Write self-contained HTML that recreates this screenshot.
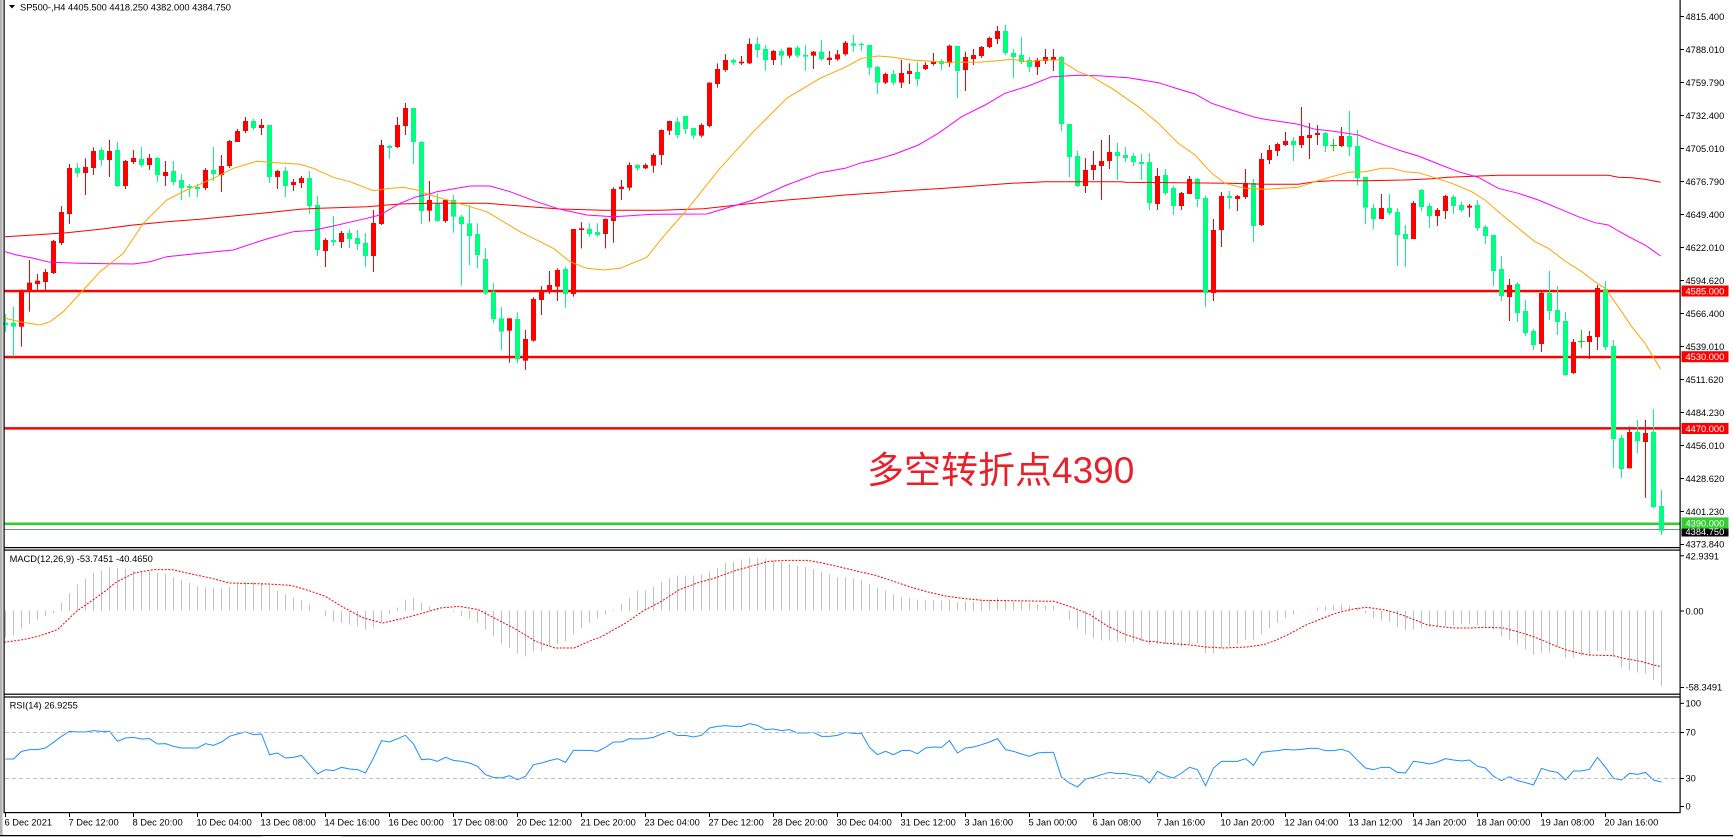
<!DOCTYPE html>
<html><head><meta charset="utf-8">
<style>
html,body{margin:0;padding:0;background:#fff;width:1733px;height:837px;overflow:hidden}
svg{display:block}
text{font-family:"Liberation Sans",sans-serif;font-size:9.3px;fill:#000}
</style></head>
<body>
<svg id="c" width="1733" height="837" viewBox="0 0 1733 837" xmlns="http://www.w3.org/2000/svg">
<rect x="0" y="0" width="1733" height="837" fill="#fff"/>
<g id="levels">
<rect x="4.5" y="289.8" width="1675" height="2.5" fill="#ff0000"/>
<rect x="4.5" y="355.8" width="1675" height="2.5" fill="#ff0000"/>
<rect x="4.5" y="427.1" width="1675" height="2.5" fill="#ff0000"/>
<rect x="4.5" y="522.5" width="1675" height="2.5" fill="#32cd32"/>
<rect x="4.5" y="529" width="1675" height="1" fill="#778899"/>
</g>
<g id="candles"></g>
<g id="mas" fill="none" stroke-width="1"></g>
<g id="macd"></g>
<g id="rsi" fill="none"></g>

<!-- RSI levels -->
<line x1="5" y1="732.5" x2="1679" y2="732.5" stroke="#c0c0c0" stroke-dasharray="4 3"/>
<line x1="5" y1="778.5" x2="1679" y2="778.5" stroke="#c0c0c0" stroke-dasharray="4 3"/>

<!-- frames -->
<rect x="0" y="0" width="2.5" height="837" fill="#b4b4b4"/>
<rect x="3.5" y="0" width="1.2" height="813" fill="#000"/>
<rect x="1679.5" y="0" width="1.2" height="813" fill="#000"/>
<rect x="3.5" y="547" width="1677" height="1.2" fill="#000"/>
<rect x="3.5" y="549.5" width="1677" height="1.2" fill="#000"/>
<rect x="3.5" y="693.6" width="1677" height="1.2" fill="#000"/>
<rect x="3.5" y="696.4" width="1677" height="1.2" fill="#000"/>
<rect x="3.5" y="812" width="1677" height="1.2" fill="#000"/>
<rect x="0" y="835" width="1733" height="1" fill="#000"/>
<rect x="0" y="836" width="1733" height="1" fill="#c0c0c0"/>
<rect x="262" y="836" width="79" height="1" fill="#f0f0f0"/>

<!-- header -->
<polygon points="9,5 15,5 12,8.5" fill="#000"/>
<text x="20" y="10.3">SP500-,H4  4405.500 4418.250 4382.000 4384.750</text>
<text x="9.6" y="562">MACD(12,26,9) -53.7451 -40.4650</text>
<text x="9.6" y="708.7">RSI(14) 26.9255</text>

<!-- price axis -->
<g id="pticks" stroke="#000" stroke-width="1"></g>
<text x="1685.5" y="20">4815.400</text>
<text x="1685.5" y="53">4788.010</text>
<text x="1685.5" y="86">4759.790</text>
<text x="1685.5" y="119">4732.400</text>
<text x="1685.5" y="152">4705.010</text>
<text x="1685.5" y="185">4676.790</text>
<text x="1685.5" y="218">4649.400</text>
<text x="1685.5" y="251">4622.010</text>
<text x="1685.5" y="284">4594.620</text>
<text x="1685.5" y="317">4566.400</text>
<text x="1685.5" y="350">4539.010</text>
<text x="1685.5" y="383">4511.620</text>
<text x="1685.5" y="416">4484.230</text>
<text x="1685.5" y="449">4456.010</text>
<text x="1685.5" y="482">4428.620</text>
<text x="1685.5" y="515">4401.230</text>
<text x="1685.5" y="547.7">4373.840</text>

<!-- price tags -->
<rect x="1681.5" y="285.5" width="47" height="11" fill="#ff0000"/>
<text x="1685.5" y="294.5" style="fill:#fff">4585.000</text>
<rect x="1681.5" y="351.2" width="47" height="11" fill="#ff0000"/>
<text x="1685.5" y="360.2" style="fill:#fff">4530.000</text>
<rect x="1681.5" y="423" width="47" height="11" fill="#ff0000"/>
<text x="1685.5" y="432" style="fill:#fff">4470.000</text>
<rect x="1681.5" y="526" width="47" height="10.5" fill="#000"/>
<text x="1685.5" y="535" style="fill:#fff">4384.750</text>
<rect x="1681.5" y="517.4" width="47" height="11.2" fill="#32cd32"/>
<text x="1685.5" y="526.5" style="fill:#fff">4390.000</text>

<!-- MACD axis -->
<text x="1685.5" y="559.3">42.9391</text>
<text x="1685.5" y="614.3">0.00</text>
<text x="1685.5" y="690.7">-58.3491</text>
<!-- RSI axis -->
<text x="1685.5" y="706.7">100</text>
<text x="1685.5" y="735.7">70</text>
<text x="1685.5" y="781.7">30</text>
<text x="1685.5" y="809.3">0</text>

<!-- time axis -->
<g id="tticks" stroke="#000" stroke-width="1"></g>
<text x="4.5" y="825.7">6 Dec 2021</text>
<text x="68.5" y="825.7">7 Dec 12:00</text>
<text x="132.5" y="825.7">8 Dec 20:00</text>
<text x="196.5" y="825.7">10 Dec 04:00</text>
<text x="260.5" y="825.7">13 Dec 08:00</text>
<text x="324.5" y="825.7">14 Dec 16:00</text>
<text x="388.5" y="825.7">16 Dec 00:00</text>
<text x="452.5" y="825.7">17 Dec 08:00</text>
<text x="516.5" y="825.7">20 Dec 12:00</text>
<text x="580.5" y="825.7">21 Dec 20:00</text>
<text x="644.5" y="825.7">23 Dec 04:00</text>
<text x="708.5" y="825.7">27 Dec 12:00</text>
<text x="772.5" y="825.7">28 Dec 20:00</text>
<text x="836.5" y="825.7">30 Dec 04:00</text>
<text x="900.5" y="825.7">31 Dec 12:00</text>
<text x="964.5" y="825.7">3 Jan 16:00</text>
<text x="1028.5" y="825.7">5 Jan 00:00</text>
<text x="1092.5" y="825.7">6 Jan 08:00</text>
<text x="1156.5" y="825.7">7 Jan 16:00</text>
<text x="1220.5" y="825.7">10 Jan 20:00</text>
<text x="1284.5" y="825.7">12 Jan 04:00</text>
<text x="1348.5" y="825.7">13 Jan 12:00</text>
<text x="1412.5" y="825.7">14 Jan 20:00</text>
<text x="1476.5" y="825.7">18 Jan 00:00</text>
<text x="1540.5" y="825.7">19 Jan 08:00</text>
<text x="1604.5" y="825.7">20 Jan 16:00</text>

<!-- annotation -->
<text x="867" y="483" style="font-family:'Liberation Sans','Noto Sans CJK SC',sans-serif;font-size:37px;fill:#e8202a">多空转折点4390</text>
</svg>

<script>
(function(){
var NS='http://www.w3.org/2000/svg';
function el(tag,attrs,parent){var e=document.createElementNS(NS,tag);for(var k in attrs)e.setAttribute(k,attrs[k]);parent.appendChild(e);return e;}
var gC=document.getElementById('candles'),gM=document.getElementById('mas'),gD=document.getElementById('macd'),gR=document.getElementById('rsi');

var groups=[
{off:90,start:0,d:[['G',672,698,705,725],['G',650,698,710,800],['R',598,600,710,770],['R',510,578,602,665],['R',552,572,582,600],['R',537,546,576,600],['R',450,453,549,552],['R',348,366,459,465],['R',222,234,372,402],['G',220,234,249,261],['R',205,231,249,315],['R',172,183,234,255],['G',172,180,210,228],['R',150,183,210,261],['G',156,180,288,291],['R',210,213,288,297],['R',180,204,216,222],['G',171,207,225,231],['R',192,204,225,240],['G',201,204,255,276],['R',213,246,258,288],['G',213,243,276,285],['G',252,270,294,330],['G',282,288,294,321],['G',282,291,297,321],['R',234,240,294,300],['G',171,240,252,273],['R',195,228,255,306],['R',150,153,228,234],['R',117,123,156,156],['R',81,93,123,129],['G',87,93,114,120],['R',87,105,114,135],['G',105,105,261,279],['R',240,243,261,297],['G',231,243,288,321],['R',267,276,285,303],['R',258,264,279,294],['G',243,264,348,372],['G',318,345,480,498],['R',444,450,483,531],['G',378,450,456,468],['R',423,429,456,474],['G',417,429,447,474],['G',420,444,462,480],['G',429,459,498,531],['R',360,399,498,546],['R',150,165,402,405],['G',165,168,174,207],['R',81,105,171,174],['R',39,54,108,135],['G',54,54,156,222],['G',153,156,363,402]]},
{off:20,start:53,d:[['R',483,540,572,605],['G',520,548,603,605],['R',538,540,603,608],['G',525,540,590,638],['G',585,590,612,797],['G',555,610,648,735],['G',610,642,705,745],['G',685,717,820,825],['G',790,815,897,910],['G',862,895,935,990],['R',895,895,932,1028],['G',877,897,1018,1030],['R',930,957,1022,1050],['R',832,837,962,965],['R',798,812,840,885],['R',753,795,815,822],['R',745,750,800,843],['G',740,747,822,863],['R',627,627,822,830],['R',606,625,630,685],['G',610,627,642,650],['G',610,636,645,650],['R',595,597,642,685],['R',502,507,603,668],['R',480,500,507,540],['R',427,435,503,512],['G',433,435,445,452],['R',430,435,445,447],['R',400,405,437,458],['R',328,330,405,435],['R',302,303,332,345],['G',292,305,345,355],['G',288,288,327,342],['G',323,324,347,357],['R',310,315,347,352],['R',187,188,318,322],['R',130,147,192,203],['R',102,120,150,155],['G',115,120,128,135],['R',108,125,130,135],['R',55,72,130,132],['G',50,72,90,113],['G',75,87,120,152],['R',90,93,120,135],['G',87,93,107,135],['R',82,83,107,115],['G',77,83,107,113],['G',75,105,110,152],['R',93,95,107,147],['G',60,95,117,122],['R',93,113,120,135],['R',90,103,118,122],['R',63,68,103,107]]},
{off:10,start:106,d:[['G',75,100,107,125],['G',97,102,104,122],['G',105,105,173,195],['G',168,171,218,252],['R',188,192,218,222],['G',180,192,218,225],['R',150,189,218,234],['R',160,183,192,222],['G',155,186,207,228],['R',157,165,177,180],['R',129,153,162,167],['G',147,153,162,180],['R',104,107,159,171],['G',108,108,183,264],['R',125,141,180,243],['R',117,135,147,165],['R',108,111,138,144],['R',80,84,111,114],['R',48,63,87,102],['G',44,63,129,135],['G',117,129,141,204],['G',81,135,156,162],['G',141,150,171,186],['R',144,150,171,195],['R',117,141,153,162],['R',117,141,150,183],['G',138,141,342,363],['G',342,342,441,501],['G',423,438,528,531],['R',444,480,528,549],['R',423,465,480,510],['R',390,453,468,570],['R',375,426,453,477],['G',399,426,438,510],['G',411,435,444,456],['G',429,438,456,468],['G',432,456,462,510],['G',429,456,579,600],['R',474,498,582,600],['G',477,495,549,555],['G',528,534,588,615],['R',546,549,588,600],['R',498,507,552,552],['G',504,507,567,591],['G',558,564,849,891],['R',627,660,849,873],['R',546,558,660,711],['G',543,558,564,597],['R',555,558,567,603],['R',477,519,561,567],['G',507,519,648,696],['R',429,447,645,648],['R',405,420,450,462]]},
{off:90,start:159,d:[['R',158,162,183,198],['R',126,153,165,168],['G',141,153,165,213],['R',51,138,165,174],['R',99,135,144,207],['R',105,129,135,165],['G',126,129,168,186],['X',147,165,165,183],['R',111,138,168,171],['G',63,138,171,198],['G',120,168,264,285],['G',261,261,353,402],['G',342,354,387,417],['R',312,354,387,387],['G',312,354,369,375],['G',354,366,435,528],['G',405,432,447,531],['R',333,339,447,447],['G',297,300,351,363],['G',339,348,378,414],['R',354,360,378,408],['R',315,318,363,387],['G',315,321,348,372],['G',336,345,360,366],['R',342,347,353,381],['G',330,345,414,423],['G',405,411,438,462],['G',435,435,543,588],['G',498,537,618,633],['R',567,585,621,693],['G',576,582,669,696],['G',630,663,729,738],['G',717,723,765,780],['R',606,609,762,786],['G',543,609,663,690],['G',588,660,696,735],['G',666,693,855,858],['R',747,756,849,852],['X',720,753,753,774],['R',723,738,756,807],['R',585,594,741,780],['G',573,597,771,780]]},
{off:280,start:201,d:[['G',180,198,477,563],['G',465,474,567,594],['R',440,456,565,565],['G',420,456,483,519],['R',420,459,486,654],['G',387,456,681,684],['G',630,678,752,765]]}
];
var col={R:'#ff0000',G:'#00ff7f',X:'#00e000'};
groups.forEach(function(g){
  g.d.forEach(function(c,i){
    var k=g.start+i,off=g.off;
    var hi=off+c[1]/3,top=off+c[2]/3,bot=off+c[3]/3,lo=off+c[4]/3;
    var color=col[c[0]];
    el('rect',{x:5+8*k,y:hi.toFixed(2),width:1,height:Math.max(lo-hi,1).toFixed(2),fill:color},gC);
    var h=bot-top; if(h<1)h=1;
    if(c[0]==='X'){el('rect',{x:2+8*k,y:top.toFixed(2),width:7,height:1,fill:color},gC);}
    else el('rect',{x:3+8*k,y:top.toFixed(2),width:5,height:h.toFixed(2),fill:color},gC);
  });
});

function poly(pts,stroke,parent,extra){
  var s=pts.map(function(p){return p[0].toFixed(2)+','+p[1].toFixed(2);}).join(' ');
  var a={points:s,stroke:stroke,fill:'none','stroke-width':1};
  if(extra)for(var k in extra)a[k]=extra[k];
  el('polyline',a,parent);
}
function pairs(a){var r=[];for(var i=0;i<a.length;i+=2)r.push([a[i],a[i+1]]);return r;}

var orange=pairs([5,318.3,20,321.7,40,325,50,321.7,63.3,311.7,83.3,290,100,271.7,123.3,253.3,143.3,223.3,166.7,200,186.7,190,213.3,178.3,233.3,168.3,256.7,161.3,276.7,162.7,300,164.3,313.3,168.3,333.3,177.3,350,181.7,373.3,190.7,386.7,188.7,403.3,187.3,416.7,190,430,195,
453.3,201.7,486.7,211.7,520,231.7,553.3,248.3,570,261.7,586.7,268.3,603.3,270,620,268.3,646.7,257.3,663.3,236.7,686.7,210,720,168.3,753.3,131.7,786.7,98.3,820,78.3,845,67.3,
861.7,58.3,878.3,56,888.3,56.7,911.7,60,945,62.3,978.3,62.3,995,61,1011.7,59.3,1028.3,61.7,1045,60,1058.3,60,1065,63.3,1078.3,71.7,1091.7,76.7,1111.7,88.3,1138.3,106.7,1158.3,123.3,1178.3,143.3,1195,155,1211.7,173.3,1225,183.3,1245,188.3,1265,189.3,
1298.3,187.3,1315,181.7,1331.7,176.7,1348.3,172.3,1365,171.7,1381.7,168.3,1391.7,168.3,1405,171.7,1418.3,172.7,1431.7,176.7,1451.7,183.3,1471.7,191.7,1485,200,1498.3,211.7,1518.3,228.3,1535,241.7,1548.3,248.3,1565,261,1581.7,271.7,1595,281.7,1605,288.3,1618.3,306.7,1631.7,326.7,1645,343.3,1660.7,369.3]);
var magenta=pairs([5,251.7,16.7,255,33.3,258.3,50,262.3,80,263.3,110,263.7,133.3,264,150,261.7,166.7,256.7,200,253.3,233.3,250,253.3,243.3,266.7,239,293.3,231.7,313.3,230.3,333.3,226,366.7,218.3,380,215,400,203.3,416.7,196.7,430,194,
436.7,191.7,470,186,490,186,510,191.7,536.7,201.7,560,209.3,586.7,215,613.3,216.7,653.3,214.3,706.7,214,720,210,753.3,200,786.7,185,820,172.7,845,168.3,
861.7,162.7,878.3,159,895,154,918.3,145,938.3,133.3,961.7,116.7,985,105,1005,93.3,1028.3,86,1051.7,76.7,1078.3,75.3,1098.3,75.7,1128.3,77.7,1158.3,82.7,1178.3,89,1195,94,1211.7,103.3,1231.7,110,1255,117.3,1265,119.3,
1298.3,124.3,1315,129.3,1331.7,131,1358.3,135,1375,141.7,1398.3,150,1418.3,156,1438.3,164,1458.3,171.7,1478.3,177.3,1498.3,188.3,1518.3,193.3,1538.3,200,1558.3,208.3,1578.3,216.7,1595,222.7,1608.3,225,1618.3,231,1631.7,238.3,1645,245,1660.7,256]);
var redma=pairs([5,236.7,33.3,235,66.7,232.7,100,229.3,133.3,225,166.7,221.7,200,219.3,233.3,216,266.7,212.7,300,209.3,320,208.3,366.7,206.7,400,204,430,203.3,
486.7,203.3,520,206,560,209,603.3,210.3,660,210.3,703.3,208.7,753.3,203.3,786.7,200,820,197.3,845,195,
878.3,192.7,911.7,190.3,945,188.3,978.3,185.7,1011.7,183.3,1045,181.7,1121.7,181.7,1125,182.3,1178.3,182.7,1228.3,183.3,1265,184.3,
1298.3,184.3,1315,181.7,1331.7,180.7,1365,180.7,1405,180,1431.7,178.7,1448.3,177.3,1498.3,175.3,1608.3,175.3,1618.3,177.3,1631.7,177.7,1645,179.3,1660.7,182.3]);
poly(redma,'#ff0000',gM);
poly(magenta,'#ff00ff',gM);
poly(orange,'#ffa500',gM);

/* MACD histogram */
var macd=[268,262,242,228,215,204,195,165,135,110,93,75,67,58,60,62,68,70,70,75,78,87,95,105,114,118,120,122,117,107,101,102,105,112,128,138,150,157,170,188,205,220,225,230,236,244,238,222,198,178,155,150,165,176,182,188,192,204,212,225,245,265,287,300,317,325,310,308,295,288,280,260,240,225,212,
200,185,168,150,128,128,117,102,90,82,82,82,80,70,60,45,40,35,30,30,33,37,42,48,53,57,63,72,80,87,87,92,95,107,120,128,140,148,150,155,158,157,158,155,162,160,160,157,155,150,155,160,160,165,170,173,173,190,215,242,260,272,278,278,280,282,282,282,290,
288,288,292,296,288,285,315,315,300,295,288,275,275,258,240,225,210,200,190,186,178,175,172,170,172,180,195,210,218,222,237,248,245,240,237,235,235,232,230,230,232,238,245,265,275,290,
304,321,314,314,298,329,328,324,324,308,308,326,358,368,374,376,396,416];
var z0=548+188/3;
macd.forEach(function(v,k){
  var y=548+v/3; var a=Math.min(y,z0), b=Math.max(y,z0);
  if(b-a<0.5) return;
  el('rect',{x:5+8*k,y:a.toFixed(2),width:1,height:(b-a).toFixed(2),fill:'#c0c0c0'},gD);
});
/* signal */
var sig=[];
var s9=[10,283,60,275,100,265,150,245,200,190,250,150,280,125,300,105,350,75,400,65,450,65,500,78,550,90,600,105,700,108,760,112,800,125,850,145,900,180,950,210,1000,225,1050,212,1100,197,1150,180,1200,175,1250,185,1300,215,1350,245,1400,280,1450,300,1500,300,1550,275];
for(var i=0;i<s9.length;i+=2)sig.push([s9[i]/2.613,548+s9[i+1]/3]);
var s10=[28,268,50,255,100,225,150,188,200,160,250,125,300,105,350,90,400,70,450,55,500,40,550,37,610,37,650,45,700,57,750,70,800,82,850,100,900,118,950,133,1000,145,1050,152,1100,157,1300,160,1350,178,1400,200,1450,235,1500,260,1560,280];
for(i=0;i<s10.length;i+=2)sig.push([590+s10[i]/2.8,548+s10[i+1]/3]);
var s11=[100,280,130,285,200,290,260,297,310,300,380,297,430,290,460,280,500,262,560,230,610,210,650,195,700,183,740,178,790,185,830,195,870,210,920,230,970,237,1000,240,1050,240,1100,238,1150,240];
for(i=0;i<s11.length;i+=2)sig.push([1120+s11[i]/3,548+s11[i+1]/3]);
var s4=[60,187,100,200,130,212,160,225,200,240,240,250,270,255,300,256,340,257,370,265,400,270,430,276,460,285,484,290];
for(i=0;i<s4.length;i+=2)sig.push([1500+s4[i]/3,570+s4[i+1]/3]);
poly(sig,'#ff0000',gD,{'stroke-dasharray':'2 1.5'});

/* RSI */
var rsi=[633,633,610,605,605,600,583,565,550,552,552,548,550,550,580,570,568,573,572,588,587,595,600,600,600,587,592,582,565,558,552,560,558,620,615,630,628,622,650,678,665,668,658,663,665,675,630,578,582,572,562,588,635,633,640,628,637,640,645,655,680,688,690,683,695,685,650,645,638,632,643,607,607,607,610,
598,582,582,572,573,572,568,558,550,563,562,567,562,540,535,533,535,535,527,532,545,543,548,545,555,555,553,565,565,562,553,556,556,598,620,610,620,608,607,617,600,597,598,578,615,600,597,590,582,572,605,610,618,625,615,613,613,688,705,717,693,688,680,673,677,677,682,685,705,
670,683,690,675,658,665,713,660,640,640,640,632,652,613,610,608,604,606,604,601,601,608,608,604,612,637,660,665,658,658,673,675,640,643,648,642,632,636,639,636,655,660,685,698,686,698,
704,711,661,669,673,696,669,669,664,628,658,691,696,676,679,673,696,702];
var rp=rsi.map(function(v,k){return [5.5+8*k,548+v/3];});
poly(rp,'#1e90ff',gR);

/* ticks */
var pt=document.getElementById('pticks');
for(var n=0;n<17;n++){var y=16.5+33*n;el('line',{x1:1680,y1:y,x2:1684,y2:y},pt);}
[555.8,611,687.5,703.3,732.5,778.5,806.5].forEach(function(y){el('line',{x1:1680,y1:y,x2:1684,y2:y},pt);});
var tt=document.getElementById('tticks');
for(n=0;n<26;n++){var x=5.5+64*n;el('line',{x1:x,y1:812.5,x2:x,y2:817},tt);}
})();
</script>
</body></html>
